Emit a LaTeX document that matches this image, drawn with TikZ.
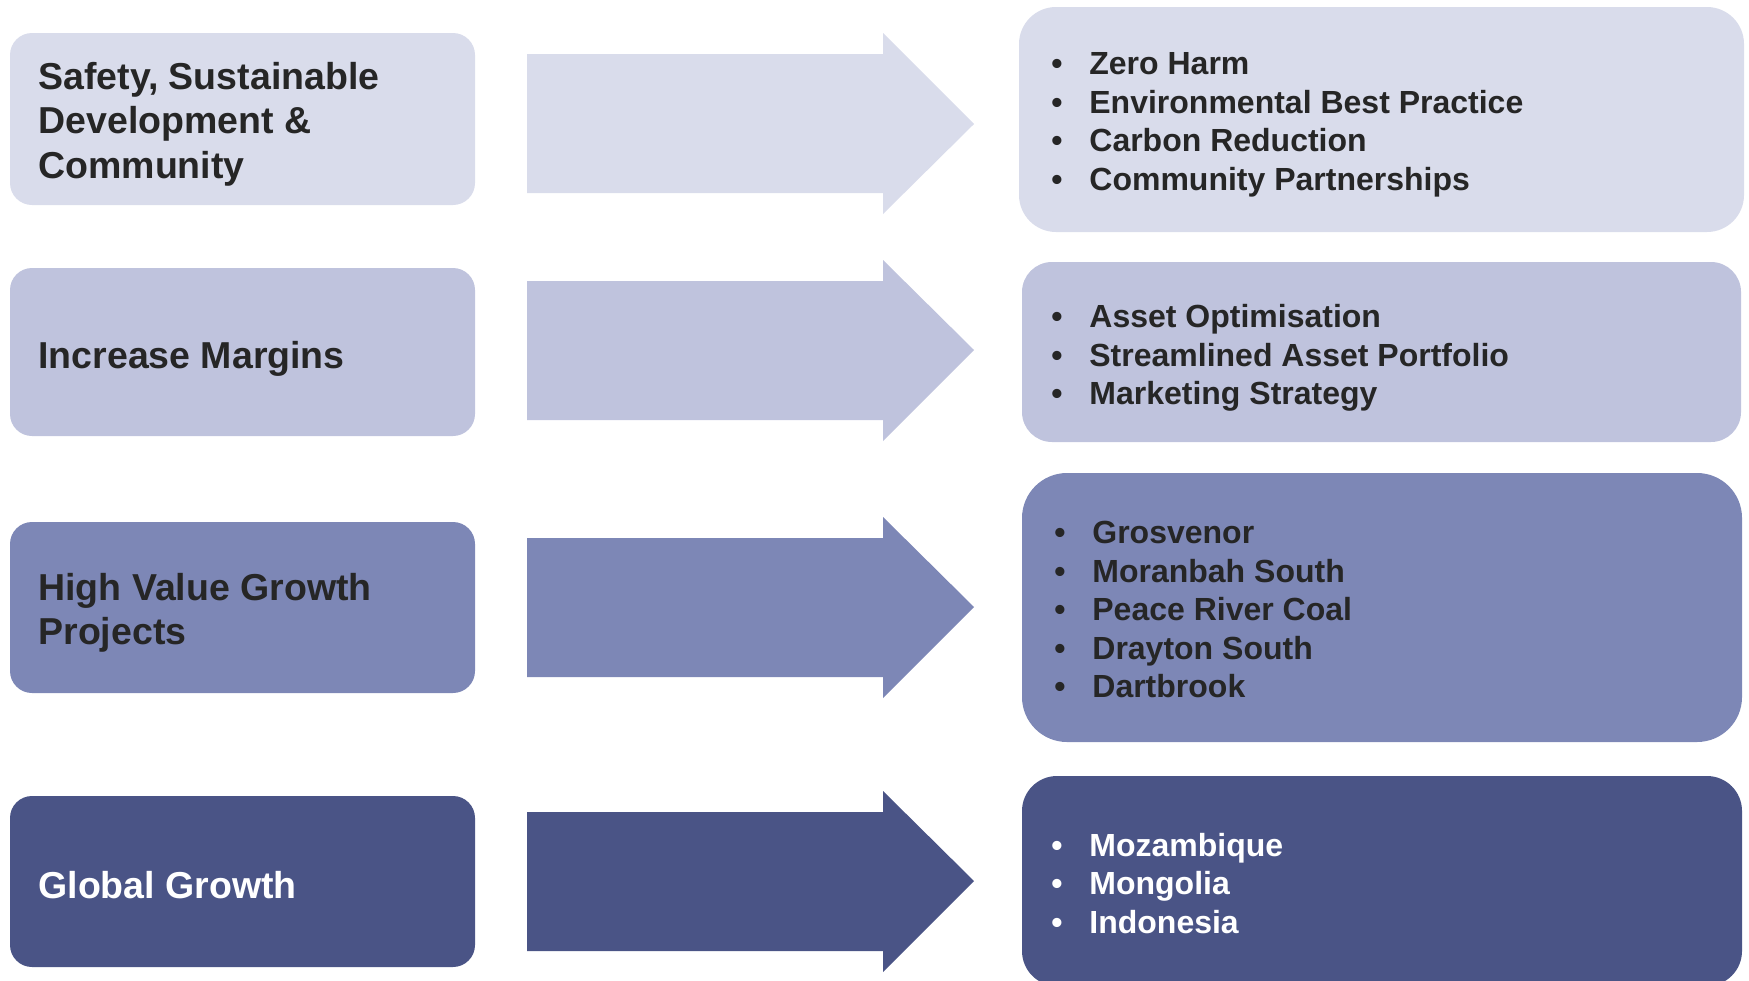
\documentclass[tikz,border=0pt]{standalone}
\usepackage{fontspec}
\setmainfont{Liberation Sans}
\definecolor{cA}{HTML}{D9DCEB}
\definecolor{cB}{HTML}{BFC3DD}
\definecolor{cC}{HTML}{7D87B6}
\definecolor{cD}{HTML}{4A5486}
\definecolor{txt}{HTML}{262626}
\newcommand{\bl}[1]{\strut\makebox[19pt][l]{•}#1}
\begin{document}
\begin{tikzpicture}[x=0.5pt,y=-0.5pt,
  lbox/.style={rectangle,draw=none,inner sep=0pt,rounded corners=11pt,minimum width=232.5pt},
  rbox/.style={rectangle,draw=none,inner sep=0pt},
  ltext/.style={inner sep=0pt,anchor=west,align=left,text=txt,
    font=\bfseries\fontsize{18.75pt}{22.25pt}\selectfont},
  rtext/.style={inner sep=0pt,anchor=west,align=left,text=txt,
    font=\bfseries\fontsize{16pt}{19.25pt}\selectfont},
]
\useasboundingbox (0,0) rectangle (1749,980);

% left boxes
\node[lbox,fill=cA,minimum height=86pt]   (l1) at (242.5,119) {};
\node[lbox,fill=cB,minimum height=84pt]   (l2) at (242.5,352) {};
\node[lbox,fill=cC,minimum height=85.5pt] (l3) at (242.5,607.5) {};
\node[lbox,fill=cD,minimum height=85.5pt] (l4) at (242.5,881.5) {};

\node[ltext] (l1t) at (38,125) {\strut Safety, Sustainable\\\strut Development \&\\\strut Community};
\node[ltext] (l2t) at (38,359.5) {\strut Increase Margins};
\node[ltext] (l3t) at (38,613.5) {\strut High Value Growth\\\strut Projects};
\node[ltext,text=white] (l4t) at (38,889.5) {\strut Global Growth};

% arrows
\fill[cA] (527,54) -- (883,54) -- (883,33) -- (974,124) -- (883,214) -- (883,193) -- (527,193) -- cycle;
\fill[cB] (527,281) -- (883,281) -- (883,260) -- (974,350) -- (883,441) -- (883,420) -- (527,420) -- cycle;
\fill[cC] (527,538) -- (883,538) -- (883,517) -- (974,607) -- (883,698) -- (883,677) -- (527,677) -- cycle;
\fill[cD] (527,812) -- (883,812) -- (883,791) -- (974,881) -- (883,972) -- (883,951) -- (527,951) -- cycle;

% right boxes
\node[rbox,fill=cA,rounded corners=18.5pt,minimum width=362.5pt,minimum height=112.5pt] (r1) at (1381.5,119.5) {};
\node[rbox,fill=cB,rounded corners=15pt,minimum width=359.5pt,minimum height=90pt] (r2) at (1381.5,352) {};
\node[rbox,fill=cC,rounded corners=22.5pt,minimum width=360pt,minimum height=134.5pt] (r3) at (1382,607.5) {};
\node[rbox,fill=cD,rounded corners=17.5pt,minimum width=360pt,minimum height=105pt] (r4) at (1382,881) {};

\node[rtext] (r1t) at (1051,125) {\bl{Zero Harm}\\\bl{Environmental Best Practice}\\\bl{Carbon Reduction}\\\bl{Community Partnerships}};
\node[rtext] (r2t) at (1051,358.5) {\bl{Asset Optimisation}\\\bl{Streamlined Asset Portfolio}\\\bl{Marketing Strategy}};
\node[rtext] (r3t) at (1054,613) {\bl{Grosvenor}\\\bl{Moranbah South}\\\bl{Peace River Coal}\\\bl{Drayton South}\\\bl{Dartbrook}};
\node[rtext,text=white] (r4t) at (1051,887) {\bl{Mozambique}\\\bl{Mongolia}\\\bl{Indonesia}};
\end{tikzpicture}
\end{document}
